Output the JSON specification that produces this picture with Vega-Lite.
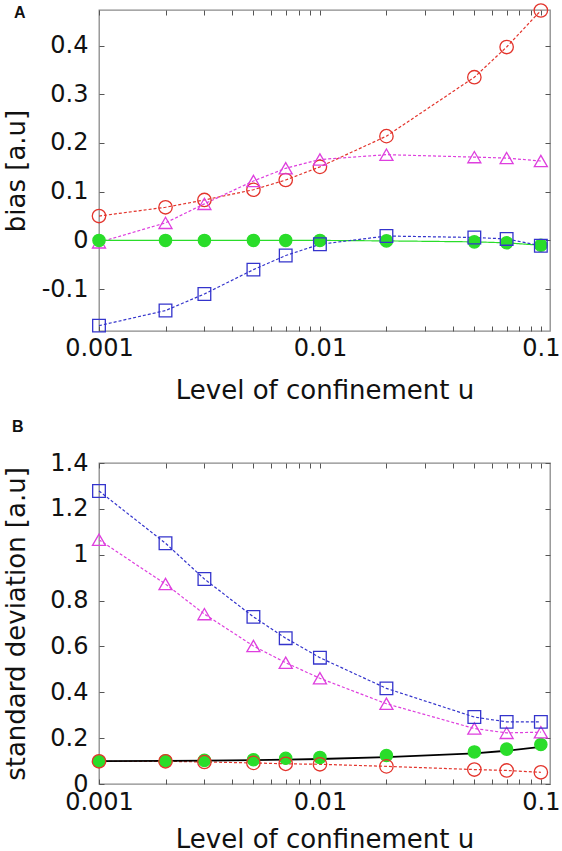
{
  "$schema": "https://vega.github.io/schema/vega-lite/v6.json",
  "padding": {"left": 2, "top": 0, "right": 0, "bottom": 0},
  "background": "white",
  "spacing": 14,
  "config": {
    "font": "DejaVu Sans",
    "view": {"stroke": "#8a8a8a", "strokeWidth": 1.3},
    "axis": {
      "domain": false, "grid": false, "tickColor": "#555555", "tickSize": -5, "tickWidth": 1,
      "labelFont": "DejaVu Sans", "labelFontSize": 24, "labelColor": "#111111",
      "titleFont": "DejaVu Sans", "titleFontSize": 26, "titleFontWeight": "normal", "titleColor": "#111111",
      "labelOverlap": false, "labelBound": false, "labelFlush": false
    }
  },
  "datasets": {
    "bias": [
      {"u": 0.001, "series": "red", "value": 0.050},
      {"u": 0.002, "series": "red", "value": 0.068},
      {"u": 0.003, "series": "red", "value": 0.083},
      {"u": 0.005, "series": "red", "value": 0.104},
      {"u": 0.007, "series": "red", "value": 0.124},
      {"u": 0.01, "series": "red", "value": 0.151},
      {"u": 0.02, "series": "red", "value": 0.214},
      {"u": 0.05, "series": "red", "value": 0.335},
      {"u": 0.07, "series": "red", "value": 0.397},
      {"u": 0.1, "series": "red", "value": 0.472},
      {"u": 0.001, "series": "magenta", "value": -0.004},
      {"u": 0.002, "series": "magenta", "value": 0.036},
      {"u": 0.003, "series": "magenta", "value": 0.075},
      {"u": 0.005, "series": "magenta", "value": 0.122},
      {"u": 0.007, "series": "magenta", "value": 0.148},
      {"u": 0.01, "series": "magenta", "value": 0.166},
      {"u": 0.02, "series": "magenta", "value": 0.176},
      {"u": 0.05, "series": "magenta", "value": 0.171},
      {"u": 0.07, "series": "magenta", "value": 0.169},
      {"u": 0.1, "series": "magenta", "value": 0.163},
      {"u": 0.001, "series": "green", "value": 0.0},
      {"u": 0.002, "series": "green", "value": 0.0},
      {"u": 0.003, "series": "green", "value": 0.0},
      {"u": 0.005, "series": "green", "value": 0.0},
      {"u": 0.007, "series": "green", "value": 0.0},
      {"u": 0.01, "series": "green", "value": 0.0},
      {"u": 0.02, "series": "green", "value": -0.001},
      {"u": 0.05, "series": "green", "value": -0.003},
      {"u": 0.07, "series": "green", "value": -0.005},
      {"u": 0.1, "series": "green", "value": -0.010},
      {"u": 0.001, "series": "blue", "value": -0.175},
      {"u": 0.002, "series": "blue", "value": -0.144},
      {"u": 0.003, "series": "blue", "value": -0.110},
      {"u": 0.005, "series": "blue", "value": -0.060},
      {"u": 0.007, "series": "blue", "value": -0.031},
      {"u": 0.01, "series": "blue", "value": -0.008},
      {"u": 0.02, "series": "blue", "value": 0.009},
      {"u": 0.05, "series": "blue", "value": 0.006},
      {"u": 0.07, "series": "blue", "value": 0.003},
      {"u": 0.1, "series": "blue", "value": -0.011}
    ],
    "sd": [
      {"u": 0.001, "series": "green", "value": 0.099},
      {"u": 0.002, "series": "green", "value": 0.101},
      {"u": 0.003, "series": "green", "value": 0.103},
      {"u": 0.005, "series": "green", "value": 0.106},
      {"u": 0.007, "series": "green", "value": 0.112},
      {"u": 0.01, "series": "green", "value": 0.116},
      {"u": 0.02, "series": "green", "value": 0.124},
      {"u": 0.05, "series": "green", "value": 0.140},
      {"u": 0.07, "series": "green", "value": 0.152},
      {"u": 0.1, "series": "green", "value": 0.172},
      {"u": 0.001, "series": "red", "value": 0.099},
      {"u": 0.002, "series": "red", "value": 0.099},
      {"u": 0.003, "series": "red", "value": 0.096},
      {"u": 0.005, "series": "red", "value": 0.092},
      {"u": 0.007, "series": "red", "value": 0.088},
      {"u": 0.01, "series": "red", "value": 0.086},
      {"u": 0.02, "series": "red", "value": 0.077},
      {"u": 0.05, "series": "red", "value": 0.063},
      {"u": 0.07, "series": "red", "value": 0.059},
      {"u": 0.1, "series": "red", "value": 0.051},
      {"u": 0.001, "series": "magenta", "value": 1.065},
      {"u": 0.002, "series": "magenta", "value": 0.872},
      {"u": 0.003, "series": "magenta", "value": 0.741},
      {"u": 0.005, "series": "magenta", "value": 0.602},
      {"u": 0.007, "series": "magenta", "value": 0.529},
      {"u": 0.01, "series": "magenta", "value": 0.461},
      {"u": 0.02, "series": "magenta", "value": 0.350},
      {"u": 0.05, "series": "magenta", "value": 0.242},
      {"u": 0.07, "series": "magenta", "value": 0.223},
      {"u": 0.1, "series": "magenta", "value": 0.226},
      {"u": 0.001, "series": "blue", "value": 1.278},
      {"u": 0.002, "series": "blue", "value": 1.050},
      {"u": 0.003, "series": "blue", "value": 0.894},
      {"u": 0.005, "series": "blue", "value": 0.729},
      {"u": 0.007, "series": "blue", "value": 0.636},
      {"u": 0.01, "series": "blue", "value": 0.551},
      {"u": 0.02, "series": "blue", "value": 0.417},
      {"u": 0.05, "series": "blue", "value": 0.292},
      {"u": 0.07, "series": "blue", "value": 0.271},
      {"u": 0.1, "series": "blue", "value": 0.271}
    ],
    "theory": [
      {"u": 0.001, "value": 0.100},
      {"u": 0.002, "value": 0.101},
      {"u": 0.003, "value": 0.102},
      {"u": 0.005, "value": 0.104},
      {"u": 0.007, "value": 0.106},
      {"u": 0.01, "value": 0.109},
      {"u": 0.02, "value": 0.117},
      {"u": 0.05, "value": 0.134},
      {"u": 0.07, "value": 0.145},
      {"u": 0.1, "value": 0.162}
    ]
  },
  "resolve": {"scale": {"x": "independent", "y": "independent"}},
  "vconcat": [
    {
      "width": 451,
      "height": 321,
      "title": {"text": "A", "anchor": "start", "frame": "group", "font": "Liberation Sans", "fontSize": 16, "fontWeight": "bold", "color": "#111111", "dx": -85, "dy": 20, "offset": 0},
      "data": {"name": "bias"},
      "resolve": {"axis": {"x": "independent", "y": "independent"}},
      "layer": [
        {
          "mark": {"type": "line"},
          "encoding": {
            "x": {"field": "u", "type": "quantitative", "scale": {"type": "log", "domain": [0.001, 0.11], "nice": false},
              "axis": {"orient": "bottom", "values": [0.001,0.002,0.003,0.004,0.005,0.006,0.007,0.008,0.009,0.01,0.02,0.03,0.04,0.05,0.06,0.07,0.08,0.09,0.1],
                "labelExpr": "indexof([0.001,0.01,0.1], datum.value) >= 0 ? toString(datum.value) : ''",
                "labelPadding": 10, "labelBaseline": "top", "title": "Level of confinement u", "titleY": 67, "titleBaseline": "alphabetic"}},
            "y": {"field": "value", "type": "quantitative", "scale": {"domain": [-0.186, 0.473], "nice": false, "zero": false},
              "axis": {"orient": "left", "values": [-0.1, 0, 0.1, 0.2, 0.3, 0.4], "labelExpr": "toString(round(datum.value*10)/10)",
                "labelPadding": 16, "title": "bias [a.u]", "titleX": -75, "titleBaseline": "alphabetic"}},
            "color": {"field": "series", "type": "nominal", "scale": {"domain": ["red", "magenta", "blue", "green"], "range": ["#e3342c", "#de3fde", "#3434cc", "#2add2a"]}, "legend": null},
            "strokeDash": {"field": "series", "type": "nominal", "scale": {"domain": ["red", "magenta", "blue", "green"], "range": [[3, 2], [3, 2], [3, 2], [1, 0]]}, "legend": null},
            "strokeWidth": {"field": "series", "type": "nominal", "scale": {"domain": ["red", "magenta", "blue", "green"], "range": [1.2, 1.2, 1.2, 2.8]}, "legend": null}
          }
        },
        {
          "mark": {"type": "point", "opacity": 1, "strokeWidth": 1.3},
          "encoding": {
            "x": {"field": "u", "type": "quantitative",
              "axis": {"orient": "top", "values": [0.001,0.002,0.003,0.004,0.005,0.006,0.007,0.008,0.009,0.01,0.02,0.03,0.04,0.05,0.06,0.07,0.08,0.09,0.1], "labels": false, "title": null}},
            "y": {"field": "value", "type": "quantitative",
              "axis": {"orient": "right", "values": [-0.1, 0, 0.1, 0.2, 0.3, 0.4], "labels": false, "title": null}},
            "shape": {"field": "series", "type": "nominal", "scale": {"domain": ["red", "magenta", "blue", "green"], "range": ["circle", "triangle-up", "square", "circle"]}, "legend": null},
            "stroke": {"field": "series", "type": "nominal", "scale": {"domain": ["red", "magenta", "blue", "green"], "range": ["#e3342c", "#de3fde", "#3434cc", "#2add2a"]}, "legend": null},
            "fill": {"field": "series", "type": "nominal", "scale": {"domain": ["red", "magenta", "blue", "green"], "range": ["transparent", "transparent", "transparent", "#2add2a"]}, "legend": null},
            "size": {"field": "series", "type": "nominal", "scale": {"domain": ["red", "magenta", "blue", "green"], "range": [180, 150, 180, 130]}, "legend": null}
          }
        }
      ]
    },
    {
      "width": 451,
      "height": 321,
      "title": {"text": "B", "anchor": "start", "frame": "group", "font": "Liberation Sans", "fontSize": 16, "fontWeight": "bold", "color": "#111111", "dx": -87, "offset": 16},
      "resolve": {"axis": {"x": "independent", "y": "independent"}},
      "layer": [
        {
          "data": {"name": "sd"},
          "transform": [{"filter": "datum.series !== 'green'"}],
          "mark": {"type": "line", "strokeWidth": 1.2, "strokeDash": [3, 2]},
          "encoding": {
            "x": {"field": "u", "type": "quantitative", "scale": {"type": "log", "domain": [0.001, 0.11], "nice": false},
              "axis": {"orient": "bottom", "values": [0.001,0.002,0.003,0.004,0.005,0.006,0.007,0.008,0.009,0.01,0.02,0.03,0.04,0.05,0.06,0.07,0.08,0.09,0.1],
                "labelExpr": "indexof([0.001,0.01,0.1], datum.value) >= 0 ? toString(datum.value) : ''",
                "labelPadding": 11, "labelBaseline": "top", "title": "Level of confinement u", "titleY": 63, "titleBaseline": "alphabetic"}},
            "y": {"field": "value", "type": "quantitative", "scale": {"domain": [0, 1.4], "nice": false, "zero": false},
              "axis": {"orient": "left", "values": [0, 0.2, 0.4, 0.6, 0.8, 1, 1.2, 1.4], "labelExpr": "toString(round(datum.value*10)/10)",
                "labelPadding": 16, "title": "standard deviation [a.u]", "titleX": -75, "titleBaseline": "alphabetic"}},
            "color": {"field": "series", "type": "nominal", "scale": {"domain": ["red", "magenta", "blue", "green"], "range": ["#e3342c", "#de3fde", "#3434cc", "#2add2a"]}, "legend": null}
          }
        },
        {
          "data": {"name": "theory"},
          "mark": {"type": "line", "color": "#000000", "strokeWidth": 1.8},
          "encoding": {
            "x": {"field": "u", "type": "quantitative", "axis": null},
            "y": {"field": "value", "type": "quantitative", "axis": null}
          }
        },
        {
          "data": {"name": "sd"},
          "mark": {"type": "point", "opacity": 1, "strokeWidth": 1.3},
          "encoding": {
            "x": {"field": "u", "type": "quantitative",
              "axis": {"orient": "top", "values": [0.001,0.002,0.003,0.004,0.005,0.006,0.007,0.008,0.009,0.01,0.02,0.03,0.04,0.05,0.06,0.07,0.08,0.09,0.1], "labels": false, "title": null}},
            "y": {"field": "value", "type": "quantitative",
              "axis": {"orient": "right", "values": [0, 0.2, 0.4, 0.6, 0.8, 1, 1.2, 1.4], "labels": false, "title": null}},
            "shape": {"field": "series", "type": "nominal", "scale": {"domain": ["red", "magenta", "blue", "green"], "range": ["circle", "triangle-up", "square", "circle"]}, "legend": null},
            "stroke": {"field": "series", "type": "nominal", "scale": {"domain": ["red", "magenta", "blue", "green"], "range": ["#e3342c", "#de3fde", "#3434cc", "#2add2a"]}, "legend": null},
            "fill": {"field": "series", "type": "nominal", "scale": {"domain": ["red", "magenta", "blue", "green"], "range": ["transparent", "transparent", "transparent", "#2add2a"]}, "legend": null},
            "size": {"field": "series", "type": "nominal", "scale": {"domain": ["red", "magenta", "blue", "green"], "range": [180, 150, 180, 130]}, "legend": null}
          }
        }
      ]
    }
  ]
}
